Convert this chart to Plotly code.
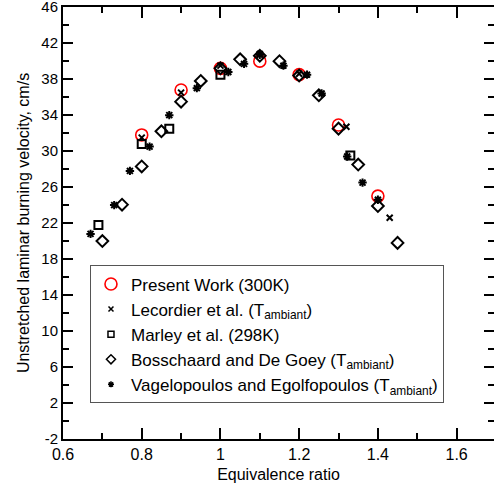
import plotly.graph_objects as go

# Present Work (300K)
pw_x = [0.8, 0.9, 1.0, 1.1, 1.2, 1.3, 1.4]
pw_y = [31.8, 36.8, 39.2, 40.0, 38.5, 32.9, 25.0]

# Lecordier et al.
lec_x = [0.8, 0.9, 1.0, 1.1, 1.2, 1.32, 1.43]
lec_y = [31.5, 36.5, 39.5, 40.8, 38.6, 32.7, 22.6]

# Marley et al. (298K)
mar_x = [0.69, 0.8, 0.87, 1.0, 1.33]
mar_y = [21.8, 30.8, 32.5, 38.5, 29.5]

# Bosschaard and De Goey
bos_x = [0.70, 0.75, 0.80, 0.85, 0.90, 0.95, 1.0, 1.05, 1.1, 1.15, 1.2, 1.25, 1.30, 1.35, 1.40, 1.45]
bos_y = [20.0, 24.05, 28.3, 32.2, 35.5, 37.8, 39.2, 40.2, 40.6, 40.0, 38.4, 36.2, 32.5, 28.5, 23.9, 19.8]

# Vagelopoulos and Egolfopoulos
vag_x = [0.67, 0.73, 0.77, 0.82, 0.87, 0.94, 1.02, 1.06, 1.1, 1.16, 1.22, 1.257, 1.322, 1.361, 1.40]
vag_y = [20.8, 24.0, 27.8, 30.5, 34.0, 37.0, 38.8, 39.7, 40.7, 39.5, 38.5, 36.4, 29.4, 26.5, 24.6]

y_tick_vals = [-2, 2, 6, 10, 14, 18, 22, 26, 30, 34, 38, 42, 46]
y_tick_text = ["-2", "2", "6", "10", "14", "18", "22", "26", "30", "34", "38", "42", "46"]
x_tick_vals = [0.6, 0.8, 1.0, 1.2, 1.4, 1.6]
x_tick_text = ["0.6", "0.8", "1", "1.2", "1.4", "1.6"]

series = [
    ("Present Work (300K)", pw_x, pw_y, "circle-open", 12, 12, "red", 1.6),
    ("Lecordier et al. (T<sub>ambiant</sub>)", lec_x, lec_y, "x-thin-open", 6, 5, "black", 2),
    ("Marley et al. (298K)", mar_x, mar_y, "square-open", 8, 6, "black", 2),
    ("Bosschaard and De Goey (T<sub>ambiant</sub>)", bos_x, bos_y, "diamond-open", 9, 7, "black", 2),
    ("Vagelopoulos and Egolfopoulos (T<sub>ambiant</sub>)", vag_x, vag_y, "asterisk-open", 7, 5, "black", 2),
]

FONT = "Arial, Liberation Sans, sans-serif"

fig = go.Figure()
for i, (name, xs, ys, sym, size, lsize, col, lw) in enumerate(series):
    fig.add_trace(go.Scatter(x=xs, y=ys, mode="markers", name=name, showlegend=False,
                             marker=dict(symbol=sym, size=size, color=col, line=dict(width=lw, color=col))))
for i, (name, xs, ys, sym, size, lsize, col, lw) in enumerate(series):
    fig.add_trace(go.Scatter(x=[None], y=[None], mode="markers", name=name, showlegend=True,
                             legendgroup="g%d" % i,
                             marker=dict(symbol=sym, size=lsize, color=col,
                                         line=dict(width=1.6 if col == "red" else 1.5, color=col))))

fig.update_layout(
    width=494, height=491,
    margin=dict(l=63, r=0, t=7, b=52, autoexpand=False),
    plot_bgcolor="white", paper_bgcolor="white",
    font=dict(family=FONT, size=16, color="black"),
    showlegend=True,
    legend=dict(x=0.0626, y=0.4018, xanchor="left", yanchor="top",
                bordercolor="#555", borderwidth=1, bgcolor="white",
                font=dict(family=FONT, size=17, color="black"),
                tracegroupgap=0, itemwidth=30),
)
fig.update_xaxes(range=[0.6, 1.695], tickvals=x_tick_vals, ticktext=x_tick_text,
                 ticks="inside", ticklen=11, tickwidth=2, ticklabeloverflow="allow",
                 tickcolor="black", showline=True, linewidth=2, linecolor="black", mirror="ticks",
                 showgrid=False, zeroline=False, automargin=False,
                 minor=dict(dtick=0.1, tick0=0.6, ticks="inside", ticklen=6, tickwidth=2, tickcolor="black", showgrid=False),
                 title=dict(text="Equivalence ratio", font=dict(size=16), standoff=7),
                 tickfont=dict(size=16))
fig.update_yaxes(range=[-2, 46.02], tickvals=y_tick_vals, ticktext=y_tick_text,
                 ticks="inside", ticklen=10, tickwidth=2, ticklabeloverflow="allow",
                 tickcolor="black", showline=True, linewidth=2, linecolor="black", mirror="ticks",
                 showgrid=False, zeroline=False, automargin=False,
                 minor=dict(dtick=2, tick0=-2, ticks="inside", ticklen=6, tickwidth=2, tickcolor="black", showgrid=False),
                 title=dict(text="Unstretched laminar burning velocity, cm/s", font=dict(size=16), standoff=8),
                 tickfont=dict(size=15))

fig.write_html("out.html", config={"displayModeBar": False},
               post_script="document.body.style.margin='0';document.body.style.overflow='hidden';")
